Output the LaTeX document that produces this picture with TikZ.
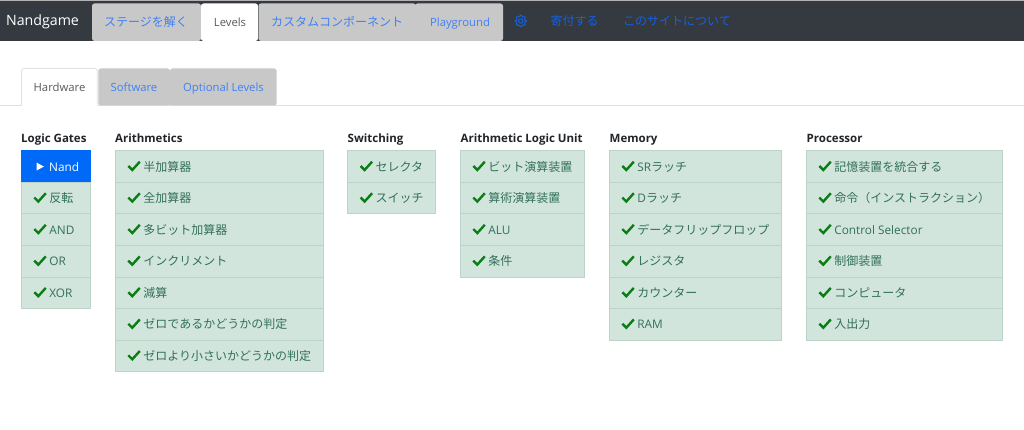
\documentclass[tikz,border=0pt]{standalone}
\usepackage{fontspec}
\setmainfont{Open Sans}
\newfontfamily\jpfam{Noto Sans CJK JP}
\newcommand{\jp}{\jpfam\fontsize{12}{14}\selectfont}
\definecolor{barc}{HTML}{343A40}
\definecolor{tabc}{HTML}{C8C8C8}
\definecolor{linkc}{HTML}{3F80F8}
\definecolor{darklink}{HTML}{1560E0}
\definecolor{cellc}{HTML}{D2E5DC}
\definecolor{celll}{HTML}{BCD3C7}
\definecolor{cellt}{HTML}{32705A}
\definecolor{checkc}{HTML}{0A7D14}
\definecolor{activec}{HTML}{0069F8}
\definecolor{headc}{HTML}{212529}
\tikzset{
  x=1pt,y=-1pt,
  tabshape/.style={rounded corners=2.5pt},
  tabtext/.style={font=\fontsize{11.3}{14}\selectfont,inner sep=0pt,anchor=base},
  head/.style={font=\bfseries\fontsize{11.5}{14}\selectfont,text=headc,inner sep=0pt,anchor=base west},
  cell/.style={draw=celll,line width=1pt,fill=cellc,inner sep=0pt,anchor=north west,minimum height=31.55pt},
  celltext/.style={font=\fontsize{11.8}{14}\selectfont,text=cellt,inner sep=0pt,anchor=base west},
  tick/.pic={\draw[checkc,line width=2.4pt] (0,0.3) -- (4,4.3) -- (11.5,-4);},
}
\newcommand{\rowcell}[5]{% name, x, width, row index, text
  \pgfmathsetmacro{\yy}{150.3+31.55*#4}
  \node[cell,minimum width=#3pt] (#1) at (#2,\yy) {};
  \pic at (#2+13.3,\yy+15.4) {tick};
  \node[celltext] (#1t) at (#2+28.2,\yy+20.8) {#5};
}
\begin{document}
\begin{tikzpicture}
\useasboundingbox (0,0) rectangle (1024,430);
\fill[white] (0,0) rectangle (1024,430);
% top bar
\fill[barc] (0,0.8) rectangle (1024,41);
\fill[gray!60] (0,0) rectangle (1024,1);
\node[inner sep=0pt,text=white,font=\fontsize{14.2}{18}\selectfont] (brand) at (42.5,22) {Nandgame};
\fill[tabc,tabshape] (92,41) -- (92,3.5) -- (201,3.5) -- (201,41) -- cycle;
\fill[white,tabshape] (201,41) -- (201,3.5) -- (258,3.5) -- (258,41) -- cycle;
\fill[tabc,tabshape] (258.5,41) -- (258.5,3.5) -- (416,3.5) -- (416,41) -- cycle;
\fill[tabc,tabshape] (415,41) -- (415,3.5) -- (503,3.5) -- (503,41) -- cycle;
\fill[tabc] (405,10) rectangle (425,41);
\node[tabtext,text=linkc] (t1) at (146,27) {\jp ステージを解く};
\node[tabtext,text=black!65] (t2) at (230,27) {Levels};
\node[tabtext,text=linkc] (t3) at (337,27) {\jp カスタムコンポーネント};
\node[tabtext,text=linkc] (t4) at (460,27) {Playground};
% gear
\draw[darklink,line width=1pt] (520.8,21) circle (2.2);
\draw[darklink,line width=1pt,line join=round]
  (526.6,21) -- (524.6,22.3) -- (525.2,25) -- (522.6,25.2) -- (520.8,27) -- (519,25.2) -- (516.4,25) -- (517,22.3)
  -- (515,21) -- (517,19.7) -- (516.4,17) -- (519,16.8) -- (520.8,15) -- (522.6,16.8) -- (525.2,17) -- (524.6,19.7) -- cycle;
\node[tabtext,text=darklink] (n1) at (574.5,25.8) {\jp 寄付する};
\node[tabtext,text=darklink] (n2) at (677,25.8) {\jp このサイトについて};
% sub tabs
\draw[black!12,line width=1pt] (0,105.5) -- (1024,105.5);
\fill[tabc,tabshape] (98.3,105.5) -- (98.3,68.5) -- (170,68.5) -- (170,105.5) -- cycle;
\fill[tabc,tabshape] (170,105.5) -- (170,68.5) -- (276.7,68.5) -- (276.7,105.5) -- cycle;
\fill[tabc] (160,72) rectangle (180,105.5);
\filldraw[fill=white,draw=black!12,line width=0.8pt,tabshape] (21.5,106) -- (21.5,68.5) -- (97.3,68.5) -- (97.3,106);
\fill[white] (22,104) rectangle (97,107);
\node[tabtext,text=black!65] (s1) at (59.5,91.8) {Hardware};
\node[tabtext,text=linkc] (s2) at (134,91.8) {Software};
\node[tabtext,text=linkc] (s3) at (223.5,91.8) {Optional Levels};
% headings
\node[head] (h1) at (21,142.3) {Logic Gates};
\node[head] (h2) at (115,142.3) {Arithmetics};
\node[head] (h3) at (347.5,142.3) {Switching};
\node[head] (h4) at (460.5,142.3) {Arithmetic Logic Unit};
\node[head] (h5) at (609.5,142.3) {Memory};
\node[head] (h6) at (806.5,142.3) {Processor};
% Logic gates
\node[cell,minimum width=69pt,fill=activec,draw=activec] (a0) at (21,150.3) {};
\fill[white] (a0.west) ++(15.5,-4) -- ++(7.4,4) -- ++(-7.4,4) -- cycle;
\node[celltext,text=white] (a0t) at (49,171.1) {Nand};
\rowcell{a1}{21}{69}{1}{\jp 反転}
\rowcell{a2}{21}{69}{2}{AND}
\rowcell{a3}{21}{69}{3}{OR}
\rowcell{a4}{21}{69}{4}{XOR}
% Arithmetics
\rowcell{b0}{115}{208}{0}{\jp 半加算器}
\rowcell{b1}{115}{208}{1}{\jp 全加算器}
\rowcell{b2}{115}{208}{2}{\jp 多ビット加算器}
\rowcell{b3}{115}{208}{3}{\jp インクリメント}
\rowcell{b4}{115}{208}{4}{\jp 減算}
\rowcell{b5}{115}{208}{5}{\jp ゼロであるかどうかの判定}
\rowcell{b6}{115}{208}{6}{\jp ゼロより小さいかどうかの判定}
% Switching
\rowcell{c0}{347.3}{88}{0}{\jp セレクタ}
\rowcell{c1}{347.3}{88}{1}{\jp スイッチ}
% ALU
\rowcell{d0}{460}{124}{0}{\jp ビット演算装置}
\rowcell{d1}{460}{124}{1}{\jp 算術演算装置}
\rowcell{d2}{460}{124}{2}{ALU}
\rowcell{d3}{460}{124}{3}{\jp 条件}
% Memory
\rowcell{e0}{609}{172.3}{0}{SR{\jp ラッチ}}
\rowcell{e1}{609}{172.3}{1}{D{\jp ラッチ}}
\rowcell{e2}{609}{172.3}{2}{\jp データフリップフロップ}
\rowcell{e3}{609}{172.3}{3}{\jp レジスタ}
\rowcell{e4}{609}{172.3}{4}{\jp カウンター}
\rowcell{e5}{609}{172.3}{5}{RAM}
% Processor
\rowcell{f0}{806}{196}{0}{\jp 記憶装置を統合する}
\rowcell{f1}{806}{196}{1}{\jp 命令（インストラクション）}
\rowcell{f2}{806}{196}{2}{Control Selector}
\rowcell{f3}{806}{196}{3}{\jp 制御装置}
\rowcell{f4}{806}{196}{4}{\jp コンピュータ}
\rowcell{f5}{806}{196}{5}{\jp 入出力}
\end{tikzpicture}
\end{document}
